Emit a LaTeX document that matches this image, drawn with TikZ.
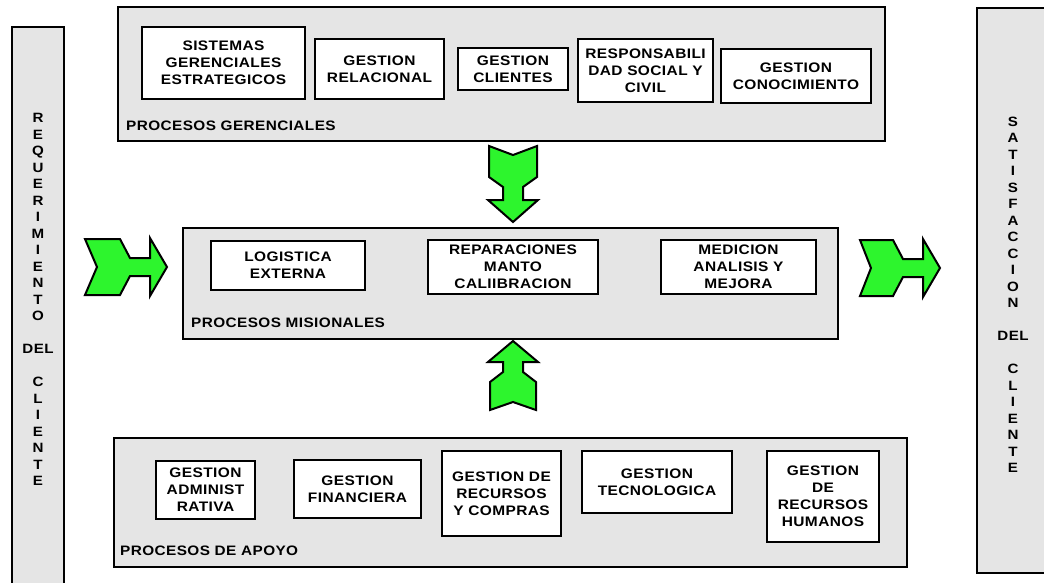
\documentclass[tikz,border=0pt]{standalone}
\usepackage{fontspec}
\newfontfamily\arialwide{Liberation Sans}[FakeStretch=1.12,LetterSpace=3]
\definecolor{panelgray}{RGB}{229,229,229}
\definecolor{arrowgreen}{RGB}{45,245,45}
\newcommand\boxfont{\arialwide\bfseries\fontsize{13.8}{17}\selectfont}
\newcommand\columnfont{\arialwide\bfseries\fontsize{13.5}{16.5}\selectfont}
\newcommand\labelfont{\arialwide\bfseries\fontsize{13.7}{16}\selectfont}
\tikzset{
  panel/.style={draw=black, line width=2.6pt, fill=panelgray, inner sep=0pt},
  procbox/.style={draw=black, line width=2.6pt, fill=white, inner sep=0pt,
    align=center, font=\boxfont},
  columntext/.style={align=center, font=\columnfont, inner sep=0pt},
  grouplabel/.style={anchor=west, font=\labelfont, inner sep=0pt},
  arrowbody/.style={draw=black, line width=2pt, fill=arrowgreen, line join=miter},
  % block arrow pointing along +x with its tip at the origin:
  % length / body half-width / head half-width / head length /
  % neck half-width / neck length / slant / tail notch depth
  pics/blockarrow/.style args={#1/#2/#3/#4/#5/#6/#7/#8}{code={
    \path[arrowbody] (0,0) -- (-#4,#3) -- (-#4,#5) -- ({-#4-#6},#5)
      -- ({-#4-#6-#7},#2) -- (-#1,#2) -- ({-#1+#8},0) -- (-#1,-#2)
      -- ({-#4-#6-#7},-#2) -- ({-#4-#6},-#5) -- (-#4,-#5) -- (-#4,-#3) -- cycle;
  }}
}
\begin{document}
\begin{tikzpicture}[x=1pt,y=-1pt]
\useasboundingbox (0,0) rectangle (1044,582);

% side columns
\node[panel, minimum width=52, minimum height=563] (colreq) at (38,308.5) {};
\node[panel, minimum width=75, minimum height=565] (colsat) at (1014.5,290.5) {};
\node[columntext] (reqtext) at (38,299.5)
  {R\\E\\Q\\U\\E\\R\\I\\M\\I\\E\\N\\T\\O\\[16.5pt]DEL\\[16.5pt]C\\L\\I\\E\\N\\T\\E};
\node[columntext] (sattext) at (1013,295)
  {S\\A\\T\\I\\S\\F\\A\\C\\C\\I\\O\\N\\[16.5pt]DEL\\[16.5pt]C\\L\\I\\E\\N\\T\\E};

% management processes
\node[panel, minimum width=767, minimum height=134] (gerenciales) at (501.5,74) {};
\node[procbox, minimum width=163, minimum height=72] (sge) at (223.5,63) {SISTEMAS\\GERENCIALES\\ESTRATEGICOS};
\node[procbox, minimum width=129, minimum height=60] (grel) at (379.5,69) {GESTION\\RELACIONAL};
\node[procbox, minimum width=110, minimum height=42] (gcli) at (513,69) {GESTION\\CLIENTES};
\node[procbox, minimum width=135, minimum height=63] (rsc) at (645.5,70.5) {RESPONSABILI\\DAD SOCIAL Y\\CIVIL};
\node[procbox, minimum width=150, minimum height=54] (gcon) at (796,76) {GESTION\\CONOCIMIENTO};
\node[grouplabel] (lblger) at (126,126) {PROCESOS GERENCIALES};

% core processes
\node[panel, minimum width=655, minimum height=111] (misionales) at (510.5,283.5) {};
\node[procbox, minimum width=154, minimum height=49] (logx) at (288,265.5) {LOGISTICA\\EXTERNA};
\node[procbox, minimum width=170, minimum height=54] (rep) at (513,267) {REPARACIONES\\MANTO\\CALIIBRACION};
\node[procbox, minimum width=155, minimum height=54] (med) at (738.5,267) {MEDICION\\ANALISIS Y\\MEJORA};
\node[grouplabel] (lblmis) at (191,323) {PROCESOS MISIONALES};

% support processes
\node[panel, minimum width=793, minimum height=129] (apoyo) at (510.5,502.5) {};
\node[procbox, minimum width=99, minimum height=58] (gadm) at (205.5,490) {GESTION\\ADMINIST\\RATIVA};
\node[procbox, minimum width=127, minimum height=58] (gfin) at (357.5,489) {GESTION\\FINANCIERA};
\node[procbox, minimum width=119, minimum height=85] (grc) at (501.5,493.5) {GESTION DE\\RECURSOS\\Y COMPRAS};
\node[procbox, minimum width=150, minimum height=62] (gtec) at (657,482) {GESTION\\TECNOLOGICA};
\node[procbox, minimum width=112, minimum height=91] (grh) at (823,496.5) {GESTION\\DE\\RECURSOS\\HUMANOS};
\node[grouplabel] (lblapo) at (120,551) {PROCESOS DE APOYO};

% flow arrows
\pic at (167,267) {blockarrow=82/28/29/17/9/20/10/12};
\pic at (940,268) {blockarrow=80/28/29/17/9/20/10/11};
\pic[rotate=-90] at (513,222) {blockarrow=76/24/25/22/10/13/10/9};
\pic[rotate=90] at (513,341) {blockarrow=69/23/25/21/10/10/10/8};
\end{tikzpicture}
\end{document}
